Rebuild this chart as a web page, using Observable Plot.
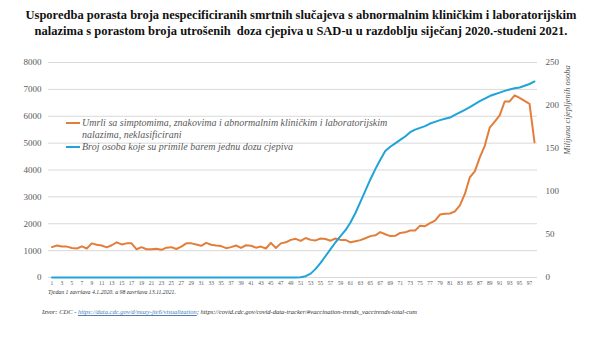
<!DOCTYPE html>
<html>
<head>
<meta charset="utf-8">
<script src="https://cdn.jsdelivr.net/npm/d3@7"></script>
<script src="https://cdn.jsdelivr.net/npm/@observablehq/plot@0.6"></script>
<style>
  html, body { margin: 0; padding: 0; background: #fff; }
  #wrap { position: relative; width: 602px; height: 338px; overflow: hidden; font-family: "Liberation Serif", "Times New Roman", serif; }
  #title { position: absolute; left: 0; top: 7px; width: 602px; text-align: center; font-weight: bold; font-size: 12.5px; line-height: 16px; color: #111; }
  #chart { position: absolute; left: 0; top: 0; }
  #chart svg, #chart svg text { font-family: "Liberation Serif", "Times New Roman", serif; }
  .legend { position: absolute; left: 66px; font-style: italic; font-size: 10px; color: #595959; line-height: 12px; }
  .legend .row { position: relative; padding-left: 16px; white-space: nowrap; }
  .legend .sw { position: absolute; left: 0; top: 5px; width: 14px; height: 2px; }
  #ylab2 { position: absolute; left: 567px; top: 110px; transform: translate(-50%, -50%) rotate(-90deg); font-style: italic; font-size: 8.5px; color: #595959; white-space: nowrap; }
  #note { position: absolute; left: 48px; top: 289px; font-style: italic; font-size: 5.8px; color: #333; white-space: nowrap; }
  #src { position: absolute; left: 42px; top: 308px; font-style: italic; font-size: 6.5px; color: #333; white-space: nowrap; }
  #src a { color: #4a7fb5; text-decoration: underline; }
</style>
</head>
<body>
<div id="wrap">
  <div id="chart"></div>
  <div id="title">Usporedba porasta broja nespecificiranih smrtnih slučajeva s abnormalnim kliničkim i laboratorijskim<br>nalazima s porastom broja utrošenih&nbsp; doza cjepiva u SAD-u u razdoblju siječanj 2020.-studeni 2021.</div>
  <div class="legend" id="legend"></div>
  <div id="ylab2"></div>
  <div id="note"></div>
  <div id="src"></div>
</div>
<script>
const weeks = [1,2,3,4,5,6,7,8,9,10,11,12,13,14,15,16,17,18,19,20,21,22,23,24,25,26,27,28,29,30,31,32,33,34,35,36,37,38,39,40,41,42,43,44,45,46,47,48,49,50,51,52,53,54,55,56,57,58,59,60,61,62,63,64,65,66,67,68,69,70,71,72,73,74,75,76,77,78,79,80,81,82,83,84,85,86,87,88,89,90,91,92,93,94,95,96,97,98];

// Umrli (left axis)
const deaths = [1130,1190,1150,1150,1100,1080,1160,1080,1270,1220,
  1190,1120,1200,1310,1230,1270,1270,1050,1130,1050,
  1050,1070,1030,1110,1130,1060,1150,1270,1270,1230,
  1180,1290,1220,1190,1170,1090,1130,1190,1100,1200,
  1180,1110,1150,1080,1290,1100,1270,1310,1400,1440,
  1360,1470,1400,1380,1450,1430,1370,1450,1400,1400,
  1310,1350,1390,1460,1540,1570,1690,1610,1540,1550,
  1660,1680,1750,1750,1930,1910,2020,2120,2340,2370,
  2380,2460,2680,3110,3730,3950,4470,4900,5580,5800,
  6030,6550,6550,6780,6680,6570,6460,5030];

// Broj cijepljenih osoba, milijuni (right axis)
const vaccinated = [0,0,0,0,0,0,0,0,0,0,
  0,0,0,0,0,0,0,0,0,0,
  0,0,0,0,0,0,0,0,0,0,
  0,0,0,0,0,0,0,0,0,0,
  0,0,0,0,0,0,0,0,0,0,
  0.3,1.5,4.5,10,17,25,33,41,48,55,
  64,75,88,101,114,126,137,147,152,156,
  160,164,169,172,174,176,179,181,183,184.5,
  186,189,192,195,198,201.5,205,208,211,213,
  215,217,218.5,220,221,223,225,228];

const leftTicks = [0,1000,2000,3000,4000,5000,6000,7000,8000];
const rightTicks = [0,50,100,150,200,250];
const xTicks = weeks.filter(w => w % 2 === 1);
const leftMax = 8000, rightMax = 250;
const k = leftMax / rightMax;

const seriesNames = [
  "Umrli sa simptomima, znakovima i abnormalnim kliničkim i laboratorijskim nalazima, neklasificirani",
  "Broj osoba koje su primile barem jednu dozu cjepiva"
];
const colors = ["#E37E3A", "#1FA3D8"];
const rightLabel = "Milijuna cijepljenih osoba";
const noteText = "Tjedan 1 završava 4.1.2020. a 98 završava 13.11.2021.";
const srcLink = "https://data.cdc.gov/d/muzy-jte6/visualization";
const srcRest = "https://covid.cdc.gov/covid-data-tracker/#vaccination-trends_vacctrends-total-cum";

const data = weeks.map((w, i) => ({week: w, deaths: deaths[i], vacc: vaccinated[i]}));

const chart = Plot.plot({
  width: 602,
  height: 338,
  marginTop: 62,
  marginBottom: 61,
  marginLeft: 48,
  marginRight: 65,
  style: {fontFamily: "Liberation Serif, Times New Roman, serif", background: "transparent"},
  x: {type: "linear", domain: [0.3, 98.6]},
  y: {domain: [0, leftMax]},
  marks: [
    Plot.gridY(leftTicks, {stroke: "#d9d9d9", strokeOpacity: 1, strokeWidth: 1}),
    Plot.axisY(leftTicks, {anchor: "left", tickSize: 0, tickPadding: 7, fontSize: 9, fill: "#595959", tickFormat: d => String(d), label: null}),
    Plot.axisY(rightTicks.map(v => v * k), {anchor: "right", tickSize: 0, tickPadding: 8, fontSize: 9, fill: "#595959", tickFormat: d => String(d / k), label: null}),
    Plot.axisX(xTicks, {anchor: "bottom", tickSize: 0, tickPadding: 4, fontSize: 5.5, fill: "#595959", tickFormat: d => String(d), label: null}),
    Plot.lineY(data, {x: "week", y: "deaths", stroke: colors[0], strokeWidth: 2}),
    Plot.lineY(data, {x: "week", y: d => d.vacc * k, stroke: colors[1], strokeWidth: 2})
  ]
});
document.getElementById("chart").appendChild(chart);

// legend
const legend = document.getElementById("legend");
legend.style.top = "117px";
const r1 = document.createElement("div");
r1.className = "row";
r1.innerHTML = `<span class="sw" style="background:${colors[0]}"></span>Umrli sa simptomima, znakovima i abnormalnim kliničkim i laboratorijskim<br>nalazima, neklasificirani`;
const r2 = document.createElement("div");
r2.className = "row";
r2.innerHTML = `<span class="sw" style="background:${colors[1]}"></span>${seriesNames[1]}`;
legend.appendChild(r1);
legend.appendChild(r2);

document.getElementById("ylab2").textContent = rightLabel;
document.getElementById("note").textContent = noteText;
document.getElementById("src").innerHTML = `Izvor: CDC - <a>${srcLink}</a>; ${srcRest}`;
</script>
</body>
</html>
